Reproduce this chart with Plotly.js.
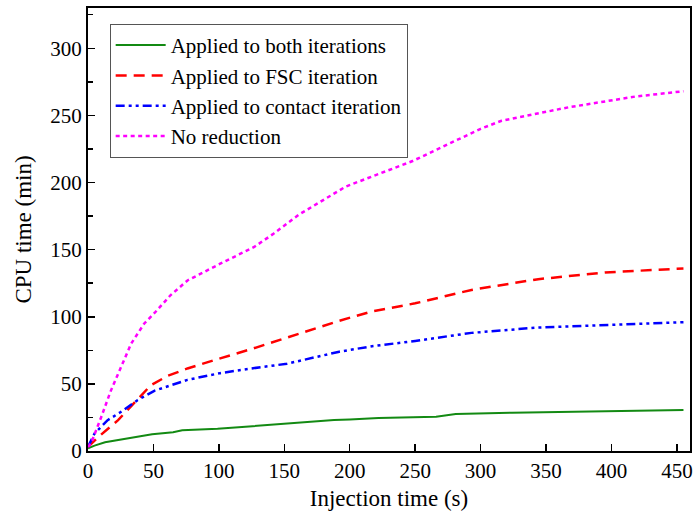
<!DOCTYPE html>
<html>
<head>
<meta charset="utf-8">
<script src="https://cdn.plot.ly/plotly-3.0.1.min.js"></script>
<style>
  html, body { margin: 0; padding: 0; background: #fff; }
  #chart { width: 693px; height: 512px; }
  /* loads the serif face before the chart's SVG text is laid out */
  .font-warmup { position: absolute; left: 0; top: 0; visibility: hidden; font-size: 21px; white-space: nowrap; }
</style>
</head>
<body>
<span class="font-warmup" aria-hidden="true" style="font-family:'Liberation Serif'">0</span>
<div id="chart"></div>
<script>
// CPU time versus injection time for the different reduction strategies
const seriesNames = [
  'Applied to both iterations',
  'Applied to FSC iteration',
  'Applied to contact iteration',
  'No reduction'
];

const bothX = [0, 5, 13, 25, 36, 49, 65, 72, 99, 125, 150, 188, 200, 222, 266, 281, 324, 400, 455];
const bothY = [2, 4, 6.5, 8.5, 10.5, 12.5, 14, 15.5, 16.5, 18.5, 20.5, 23, 23.5, 24.5, 25.5, 27.5, 28.5, 29.5, 30.5];

const fscX = [0, 8, 23, 38, 48, 61, 76, 101, 125, 152, 192, 217, 250, 293, 344, 395, 455];
const fscY = [3, 10.5, 23, 39, 49, 56, 61.5, 69, 76, 84.5, 97, 104, 110, 120, 128, 133, 136];

const contactX = [0, 5, 15, 25, 38, 51, 76, 101, 125, 152, 192, 217, 250, 293, 344, 395, 455];
const contactY = [3, 13, 23, 29, 38, 45, 53, 58, 61.5, 65, 74, 78, 82, 88, 92, 94, 96];

const noneX = [0, 2.5, 10, 17.5, 25, 33, 43, 51, 63, 76, 101, 127, 142, 161, 197, 248, 300, 316, 367, 418, 455];
const noneY = [3, 6, 25, 45, 62, 80, 95, 103, 116, 127, 139.5, 152, 162, 176, 197, 216, 240, 246, 256, 264, 268];

const xTicks = [0, 50, 100, 150, 200, 250, 300, 350, 400, 450];
const yTicks = [0, 50, 100, 150, 200, 250, 300];

const FONT = 'Liberation Serif';

const traces = [
  { x: bothX, y: bothY, name: seriesNames[0], mode: 'lines',
    line: { color: '#138a13', width: 2, dash: 'solid' } },
  { x: fscX, y: fscY, name: seriesNames[1], mode: 'lines',
    line: { color: '#ff0000', width: 2.5, dash: '11px,7px' } },
  { x: contactX, y: contactY, name: seriesNames[2], mode: 'lines',
    line: { color: '#0000ff', width: 2.5, dash: '9px,4px,3px,4px,3px,4px' } },
  { x: noneX, y: noneY, name: seriesNames[3], mode: 'lines',
    line: { color: '#ff00ff', width: 2.5, dash: '4px,3.5px' } }
];

function axisStyle(extra) {
  return Object.assign({
    showgrid: false,
    zeroline: false,
    showline: true,
    linecolor: '#000',
    linewidth: 2,
    mirror: true,
    ticks: 'inside',
    ticklen: 7,
    tickwidth: 1.5,
    tickcolor: '#000',
    ticklabeloverflow: 'allow',
    tickfont: { family: FONT, size: 21, color: '#000' }
  }, extra);
}

const layout = {
  width: 693,
  height: 512,
  margin: { l: 88, r: 3, t: 8, b: 61 },
  font: { family: FONT, size: 21, color: '#000' },
  showlegend: true,
  legend: {
    x: 0.036, y: 0.964, xanchor: 'left', yanchor: 'top',
    bgcolor: 'rgba(255,255,255,0)',
    bordercolor: '#555', borderwidth: 1,
    font: { family: FONT, size: 21, color: '#000' },
    tracegroupgap: 0,
    itemwidth: 50
  },
  xaxis: axisStyle({
    range: [0, 460],
    tickmode: 'array',
    tickvals: xTicks,
    ticktext: xTicks.map(String),
    title: { text: 'Injection time (s)', font: { family: FONT, size: 23, color: '#000' }, standoff: 8 }
  }),
  yaxis: axisStyle({
    range: [0, 330],
    tickmode: 'array',
    tickvals: yTicks,
    ticktext: yTicks.map(String),
    minor: { ticks: 'inside', ticklen: 5, tickwidth: 1.5, tickcolor: '#000', dtick: 25, tick0: 0 },
    title: { text: 'CPU time (min)', font: { family: FONT, size: 23, color: '#000' }, standoff: 12 }
  })
};

const config = { displayModeBar: false, staticPlot: true };

function draw() {
  Plotly.newPlot('chart', traces, layout, config);
}

// Draw right away, then once more when fonts report ready so text is measured with the serif face
draw();
if (document.fonts && document.fonts.ready) {
  document.fonts.ready.then(draw, draw);
}
</script>
</body>
</html>
